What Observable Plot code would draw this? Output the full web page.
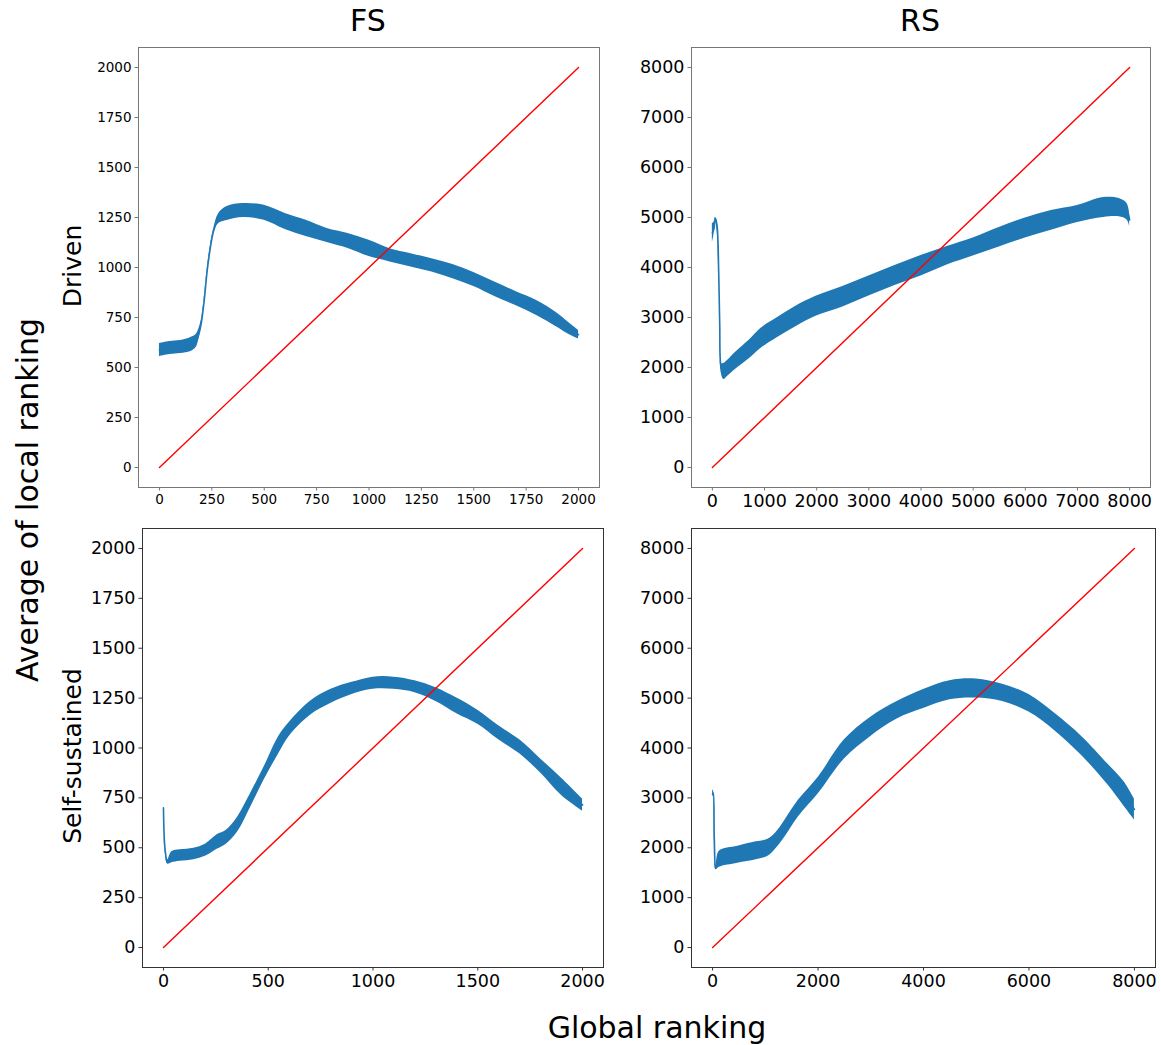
<!DOCTYPE html>
<html><head><meta charset="utf-8">
<script src="https://cdn.jsdelivr.net/npm/d3@7"></script>
<script src="https://cdn.jsdelivr.net/npm/@observablehq/plot@0.6"></script>
<style>
body{margin:0;background:#fff;}
#root{position:relative;width:1161px;height:1045px;font-family:"DejaVu Sans",sans-serif;overflow:hidden;background:#fff;}
.lbl{position:absolute;white-space:nowrap;color:#000;line-height:1;}
.rot{transform:translate(-50%,-50%) rotate(-90deg);}
.ctr{transform:translate(-50%,-50%);}
</style></head><body><div id="root"></div><script>
// ---- data ----
const colTitles = ["FS", "RS"];
const rowTitles = ["Driven", "Self-sustained"];
const yTitle = "Average of local ranking";
const xTitle = "Global ranking";

const fsTicksTop = [0, 250, 500, 750, 1000, 1250, 1500, 1750, 2000];
const fsTicksBottomX = [0, 500, 1000, 1500, 2000];
const fsTicksBottomY = [0, 250, 500, 750, 1000, 1250, 1500, 1750, 2000];
const rsTicksTopX = [0, 1000, 2000, 3000, 4000, 5000, 6000, 7000, 8000];
const rsTicksBottomX = [0, 2000, 4000, 6000, 8000];
const rsTicksY = [0, 1000, 2000, 3000, 4000, 5000, 6000, 7000, 8000];

const fsRefX = [0, 2000], fsRefY = [0, 2000];
const rsRefX = [0, 8000], rsRefY = [0, 8000];

// FS / Driven : band of local-ranking average (lower / upper envelope)
const fsDrivenX  = [0, 50, 100, 150, 175, 190, 200, 212, 228, 243, 259, 283, 323, 400, 500, 600, 700, 800, 900, 1000, 1100, 1200, 1300, 1400, 1500, 1600, 1700, 1800, 1900, 1950, 2000];
const fsDrivenLo = [555, 565, 570, 580, 600, 650, 710, 810, 975, 1090, 1175, 1220, 1235, 1250, 1236, 1190, 1155, 1125, 1095, 1055, 1028, 1002, 977, 944, 905, 855, 810, 760, 700, 668, 643];
const fsDrivenHi = [620, 630, 635, 650, 665, 700, 740, 830, 995, 1110, 1195, 1270, 1305, 1320, 1311, 1270, 1236, 1195, 1170, 1136, 1094, 1069, 1044, 1015, 975, 927, 880, 835, 770, 727, 685];

// RS / Driven
const rsDrivenX  = [0, 30, 58, 90, 122, 141, 173, 218, 300, 441, 700, 953, 1250, 1592, 1975, 2500, 3000, 3500, 4000, 4500, 5000, 5500, 6000, 6500, 7000, 7500, 7800, 7950, 8000];
const rsDrivenLo = [4500, 4650, 4950, 4740, 3850, 2850, 1880, 1760, 1830, 1960, 2170, 2400, 2600, 2810, 3020, 3210, 3430, 3640, 3830, 4050, 4230, 4412, 4590, 4746, 4900, 5000, 5013, 4950, 4820];
const rsDrivenHi = [4880, 4900, 5007, 4940, 3900, 2900, 2080, 2080, 2150, 2300, 2540, 2800, 3000, 3220, 3420, 3620, 3830, 4040, 4240, 4420, 4590, 4800, 4990, 5140, 5240, 5400, 5380, 5280, 5080];

// FS / Self-sustained
const fsSelfX  = [0, 8, 20, 40, 80, 145, 200, 256, 300, 352, 415, 479, 550, 600, 700, 800, 900, 1000, 1100, 1200, 1300, 1400, 1500, 1600, 1700, 1800, 1900, 2000];
const fsSelfLo = [690, 480, 418, 425, 432, 440, 457, 492, 518, 576, 701, 837, 971, 1058, 1163, 1224, 1268, 1294, 1294, 1277, 1233, 1172, 1119, 1041, 971, 875, 762, 684];
const fsSelfHi = [711, 500, 440, 480, 490, 498, 518, 565, 588, 651, 771, 902, 1058, 1128, 1233, 1294, 1329, 1355, 1355, 1337, 1302, 1250, 1189, 1111, 1041, 945, 849, 745];

// RS / Self-sustained
const rsSelfX  = [0, 13, 32, 64, 127, 477, 827, 1050, 1200, 1369, 1623, 2005, 2500, 3000, 3500, 4000, 4500, 5000, 5500, 6000, 6500, 7000, 7500, 7800, 8000];
const rsSelfLo = [3000, 3050, 2150, 1560, 1610, 1690, 1760, 1830, 1980, 2212, 2613, 3081, 3780, 4233, 4582, 4791, 4965, 5000, 4930, 4721, 4338, 3850, 3257, 2838, 2559];
const rsSelfHi = [3152, 3148, 2250, 1640, 1930, 2030, 2120, 2170, 2300, 2546, 2947, 3415, 4163, 4616, 4930, 5174, 5349, 5384, 5279, 5070, 4686, 4233, 3675, 3327, 2977];

// ---- drawing ----
const root = document.getElementById("root");
const BLUE = "#1f77b4", RED = "#ff0000";

function panel(o) {
  const ML = 90, MR = 20, MT = 10, MB = 45;
  const rows = o.x.map((d, i) => ({x: d, lo: o.lo[i], hi: o.hi[i], mid: (o.lo[i] + o.hi[i]) / 2}));
  const ref = o.refX.map((d, i) => ({x: d, y: o.refY[i]}));
  const pad = o.max * 0.05;
  const fmt = d => String(d);
  const p = Plot.plot({
    width: (o.r - o.l) + ML + MR,
    height: (o.b - o.t) + MT + MB,
    marginLeft: ML, marginRight: MR, marginTop: MT, marginBottom: MB,
    style: {fontSize: o.fs + "px", fontFamily: "DejaVu Sans, sans-serif", color: "#000", background: "transparent", overflow: "visible"},
    x: {domain: [-pad, o.max + pad]},
    y: {domain: [-pad, o.max + pad]},
    marks: [
      Plot.areaY(rows, {x: "x", y1: "lo", y2: "hi", fill: BLUE, curve: "catmull-rom"}),
      Plot.line(rows, {x: "x", y: "mid", stroke: BLUE, strokeWidth: 1.6, curve: "catmull-rom"}),
      Plot.line(ref, {x: "x", y: "y", stroke: RED, strokeWidth: 1.4}),
      Plot.frame({stroke: o.frame, strokeWidth: 1}),
      Plot.axisX({ticks: o.xt, tickSize: 3.5, tickPadding: 3.5, tickFormat: fmt, label: null, stroke: o.frame, fill: "#000", fontSize: o.fs}),
      Plot.axisY({ticks: o.yt, tickSize: 3.5, tickPadding: 3.5, tickFormat: fmt, label: null, stroke: o.frame, fill: "#000", fontSize: o.fs})
    ]
  });
  p.style.position = "absolute";
  p.style.left = (o.l - ML) + "px";
  p.style.top = (o.t - MT) + "px";
  root.appendChild(p);
}

panel({x: fsDrivenX, lo: fsDrivenLo, hi: fsDrivenHi, refX: fsRefX, refY: fsRefY, max: 2000,
       l: 138, r: 599, t: 47, b: 487, fs: 13.5, xt: fsTicksTop, yt: fsTicksTop, frame: "#777"});
panel({x: rsDrivenX, lo: rsDrivenLo, hi: rsDrivenHi, refX: rsRefX, refY: rsRefY, max: 8000,
       l: 691, r: 1150, t: 47, b: 487, fs: 17.5, xt: rsTicksTopX, yt: rsTicksY, frame: "#777"});
panel({x: fsSelfX, lo: fsSelfLo, hi: fsSelfHi, refX: fsRefX, refY: fsRefY, max: 2000,
       l: 142, r: 603, t: 528, b: 967, fs: 17.5, xt: fsTicksBottomX, yt: fsTicksBottomY, frame: "#333"});
panel({x: rsSelfX, lo: rsSelfLo, hi: rsSelfHi, refX: rsRefX, refY: rsRefY, max: 8000,
       l: 691, r: 1155, t: 528, b: 967, fs: 17.5, xt: rsTicksBottomX, yt: rsTicksY, frame: "#333"});

function label(text, x, y, size, rotated) {
  const d = document.createElement("div");
  d.className = "lbl " + (rotated ? "rot" : "ctr");
  d.textContent = text;
  d.style.left = x + "px";
  d.style.top = y + "px";
  d.style.fontSize = size + "px";
  root.appendChild(d);
}
label(colTitles[0], 368, 21, 30, false);
label(colTitles[1], 920, 21, 30, false);
label(rowTitles[0], 72, 266, 25, true);
label(rowTitles[1], 72, 756, 25, true);
label(yTitle, 28, 500, 30, true);
label(xTitle, 657, 1028, 30, false);
</script></body></html>
